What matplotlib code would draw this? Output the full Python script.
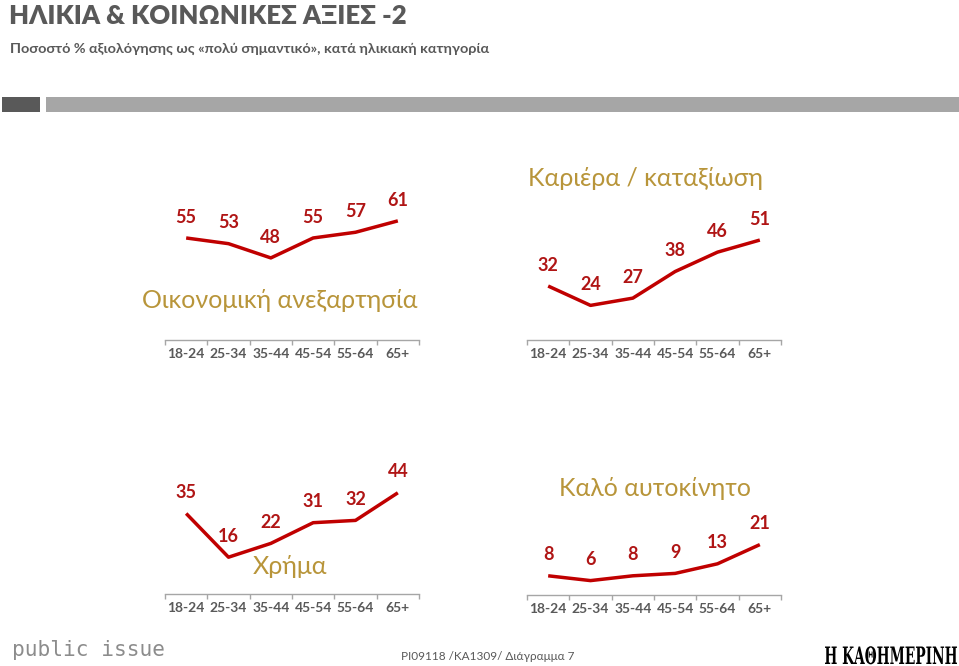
import numpy as np
import matplotlib.pyplot as plt
from matplotlib.patches import Rectangle, PathPatch
from matplotlib.textpath import TextPath
from matplotlib.font_manager import FontProperties
from matplotlib.transforms import Affine2D

plt.rcParams['font.family'] = ['Lato', 'DejaVu Sans']

# ─────────────────────────────────────────
# DATA
# ─────────────────────────────────────────
age_groups = ['18-24', '25-34', '35-44', '45-54', '55-64', '65+']

economic_independence = [55, 53, 48, 55, 57, 61]
career = [32, 24, 27, 38, 46, 51]
money = [35, 16, 22, 31, 32, 44]
good_car = [8, 6, 8, 9, 13, 21]

series_titles = ['Οικονομική ανεξαρτησία', 'Καριέρα / καταξίωση', 'Χρήμα', 'Καλό αυτοκίνητο']

title = 'ΗΛΙΚΙΑ & ΚΟΙΝΩΝΙΚΕΣ ΑΞΙΕΣ -2'
subtitle = 'Ποσοστό % αξιολόγησης ως «πολύ σημαντικό», κατά ηλικιακή κατηγορία'
footer = 'PI09118 /KA1309/ Διάγραμμα 7'

# ─────────────────────────────────────────
# STYLE
# ─────────────────────────────────────────
W, H = 959, 666
RED = '#c00000'
LABEL_RED = '#b01515'
GOLD = '#b8953a'
GREY = '#595959'

fig = plt.figure(figsize=(W / 100, H / 100), dpi=100)
fig.patch.set_facecolor('white')


def fx(x):
    return x / W


def fy(y):
    return 1 - y / H


def panel(values, name, left, axis_y, y0, scale, title_xy):
    ax_h = 170
    ax = fig.add_axes([fx(left), fy(axis_y), 254 / W, ax_h / H])
    x = np.arange(len(values))
    ax.plot(x, values, color=RED, lw=2.5, solid_capstyle='butt', clip_on=False)
    for xi, v in zip(x, values):
        ax.annotate(str(v), (xi, v), xytext=(0, 15), textcoords='offset points',
                    ha='center', va='center', fontsize=13, fontweight='bold',
                    color=LABEL_RED)
    ax.set_xlim(-0.5, len(values) - 0.5)
    ax.set_ylim(y0, y0 + ax_h / scale)
    for s in ['top', 'left', 'right']:
        ax.spines[s].set_visible(False)
    ax.spines['bottom'].set_color('#a6a6a6')
    ax.spines['bottom'].set_linewidth(1)
    ax.set_yticks([])
    ax.set_xticks(x)
    ax.set_xticklabels(age_groups)
    ax.set_xticks(np.arange(-0.5, len(values)), minor=True)
    ax.tick_params(axis='x', which='major', length=0, pad=5.5,
                   labelsize=10, labelcolor=GREY)
    ax.tick_params(axis='x', which='minor', length=3.5, color='#a6a6a6', width=1)
    for lbl in ax.get_xticklabels():
        lbl.set_fontweight('bold')
    ax.patch.set_alpha(0)
    fig.text(fx(title_xy[0]), fy(title_xy[1]), name, ha='center', va='center',
             fontsize=18, color=GOLD)
    return ax


panel(economic_independence, series_titles[0], 165, 340, 19.2, 2.85, (280, 300))
panel(career, series_titles[1], 527, 340, 9.7, 2.42, (645, 178))
panel(money, series_titles[2], 165, 594, 0, 2.3, (290, 567))
panel(good_car, series_titles[3], 527, 595, 0, 2.4, (655, 488))

# ─────────────────────────────────────────
# HEADER
# ─────────────────────────────────────────
fig.text(fx(9), fy(16), title, ha='left', va='center', fontsize=18.5,
         fontweight='heavy', color=GREY)
fig.text(fx(10), fy(49), subtitle, ha='left', va='center', fontsize=10.4,
         fontweight='bold', color=GREY)

fig.add_artist(Rectangle((fx(2), fy(112)), 38 / W, 15 / H, transform=fig.transFigure,
                         color='#595959', lw=0))
fig.add_artist(Rectangle((fx(46), fy(112)), (W - 46) / W, 15 / H, transform=fig.transFigure,
                         color='#a6a6a6', lw=0))

# ─────────────────────────────────────────
# FOOTER
# ─────────────────────────────────────────
fig.text(fx(12), fy(650), 'public issue', ha='left', va='center', fontsize=15.2,
         family='DejaVu Sans Mono', color='#8c8c8c')
fig.text(fx(488), fy(657), footer, ha='center', va='center', fontsize=8.5,
         color=GREY)

# newspaper logo: condensed text drawn as a path
tp = TextPath((0, 0), 'Η ΚΑΘΗΜΕΡΙΝΗ', size=24,
              prop=FontProperties(family='DejaVu Serif', weight='bold'))
bb = tp.get_extents()
sx = 132 / bb.width
path = Affine2D().translate(-bb.x0, 0).scale(sx, 1.0).translate(825, 666 - 664).transform_path(tp)
fig.add_artist(PathPatch(path, transform=None, color='black', lw=0))

plt.savefig('out.png', dpi=100)
